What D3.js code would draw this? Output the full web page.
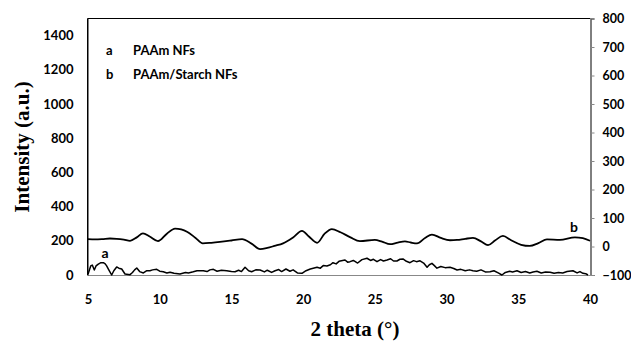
<!DOCTYPE html>
<html>
<head>
<meta charset="utf-8">
<script src="https://cdn.jsdelivr.net/npm/d3@7/dist/d3.min.js"></script>
<style>
  html, body { margin: 0; padding: 0; background: #fff; }
  svg { display: block; }
</style>
</head>
<body>
<svg id="chart" width="631" height="342"></svg>
<script>
// ---- Data ----
const xTicks = [5, 10, 15, 20, 25, 30, 35, 40];
const leftTicks = [0, 200, 400, 600, 800, 1000, 1200, 1400];
const rightTicks = [-100, 0, 100, 200, 300, 400, 500, 600, 700, 800];

// Curve a: PAAm NFs (left axis)
const thetaA = [5.0,5.19,5.30,5.44,5.56,5.72,5.9,6.07,6.2,6.30,6.45,6.65,6.8,7.0,7.15,7.35,7.58,7.93,8.1,8.25,8.40,8.6,8.86,9.1,9.32,9.5,9.79,10.0,10.25,10.5,10.72,11.0,11.41,11.8,12.0,12.34,12.6,13.04,13.3,13.5,13.74,14.0,14.3,14.67,15.0,15.25,15.5,15.7,15.95,16.2,16.41,16.7,17.0,17.3,17.5,17.8,18.04,18.3,18.5,18.8,19.08,19.3,19.6,19.92,20.2,20.5,20.97,21.2,21.4,21.66,21.9,22.08,22.3,22.5,22.92,23.1,23.27,23.5,23.8,24.1,24.45,24.7,24.9,25.15,25.4,25.6,25.85,26.1,26.3,26.54,26.75,26.96,27.2,27.45,27.7,27.9,28.15,28.4,28.64,28.8,28.98,29.15,29.33,29.6,29.9,30.24,30.5,30.73,31.0,31.3,31.6,31.84,32.1,32.4,32.7,33.03,33.3,33.6,33.86,34.1,34.4,34.6,34.91,35.2,35.5,35.8,36.03,36.3,36.6,36.9,37.22,37.5,37.8,38.1,38.4,38.81,39.1,39.3,39.51,39.7,39.86];
const valuesA = [5,53,58,29,53,64,72,72,65,53,30,0,25,47,40,35,6,2,15,30,41,20,12,25,25,30,33,22,19,12,16,10,6,15,12,19,25,25,20,30,33,22,28,25,20,19,28,20,45,25,19,30,29,18,28,15,25,32,20,35,22,30,12,10,25,35,45,40,55,53,60,72,65,80,88,75,78,85,70,90,98,85,92,78,90,82,88,95,82,82,92,94,80,72,84,78,83,70,45,60,68,55,40,50,43,45,38,29,33,25,30,25,22,30,18,19,25,12,0,15,22,18,25,15,20,12,18,22,12,18,16,10,15,12,20,25,12,20,10,8,0];

// Curve b: PAAm/Starch NFs (right axis)
const thetaB = [5.0,5.5,6.0,6.53,7.0,7.5,7.93,8.4,8.83,9.3,9.88,10.5,11.07,11.5,11.9,12.5,13.0,13.6,14.2,15.0,15.74,16.4,17.0,17.5,18.0,18.6,19.3,19.92,20.4,20.97,21.5,22.0,22.6,23.3,23.96,25.0,25.5,26.06,26.6,27.1,27.5,27.94,28.5,28.98,29.6,30.24,30.73,31.3,31.84,32.4,32.89,33.4,33.93,34.5,35.2,35.8,36.4,37.0,37.9,38.95,39.5,40.0];
const valuesB = [26,25,26,28,27,24,20,32,46,35,19,45,63,60,52,30,11,13,16,21,26,10,-9,-5,2,11,32,55,35,13,45,61,50,32,19,23,17,8,14,18,14,11,30,42,30,22,23,27,30,18,5,22,37,22,6,2,12,25,23,32,29,20];

const legendKeys = ["a", "b"];
const legendNames = ["PAAm NFs", "PAAm/Starch NFs"];

// ---- Layout ----
const svg = d3.select("#chart");
const L = 87.5, R = 590.5, T = 18.5, B = 275;

const x = d3.scaleLinear().domain([5, 40]).range([88, 590]);
const yL = d3.scaleLinear().domain([0, 1500]).range([B, T]);
const yR = d3.scaleLinear().domain([-100, 800]).range([B, T]);

const sans = "Lato, 'Open Sans', sans-serif";
const serif = "'Liberation Serif', 'Times New Roman', serif";
const fmt = d3.format("d");

// frame
svg.append("line").attr("x1", L).attr("x2", R).attr("y1", T).attr("y2", T).attr("stroke", "#000").attr("stroke-width", 1);
svg.append("line").attr("x1", L).attr("x2", L).attr("y1", T).attr("y2", B).attr("stroke", "#000").attr("stroke-width", 1);
svg.append("line").attr("x1", L).attr("x2", R).attr("y1", B + 0.5).attr("y2", B + 0.5).attr("stroke", "#888").attr("stroke-width", 1);

// left axis (labels only)
const gL = svg.append("g").attr("transform", `translate(${L},0)`)
  .call(d3.axisLeft(yL).tickValues(leftTicks).tickFormat(fmt).tickSize(0).tickPadding(14));
gL.select(".domain").attr("stroke", "#000");
gL.selectAll("text").attr("font-family", sans).attr("font-weight", "bold").attr("font-size", 13).attr("fill", "#000");

// right axis with outside ticks
const gR = svg.append("g").attr("transform", `translate(${R},0)`)
  .call(d3.axisRight(yR).tickValues(rightTicks).tickFormat(fmt).tickSize(4).tickPadding(8));
gR.select(".domain").attr("stroke", "#000");
gR.selectAll(".tick line").attr("stroke", "#888");
gR.selectAll("text").attr("font-family", sans).attr("font-weight", "bold").attr("font-size", 12.5).attr("fill", "#000");

// bottom axis labels
const gB = svg.append("g").attr("transform", `translate(0,${B})`)
  .call(d3.axisBottom(x).tickValues(xTicks).tickFormat(fmt).tickSize(0).tickPadding(20));
gB.select(".domain").remove();
gB.selectAll("text").attr("font-family", sans).attr("font-weight", "bold").attr("font-size", 13).attr("fill", "#000");

// curves
const dataA = thetaA.map((t, i) => [t, valuesA[i]]);
const dataB = thetaB.map((t, i) => [t, valuesB[i]]);

svg.append("path").datum(dataA)
  .attr("fill", "none").attr("stroke", "#000").attr("stroke-width", 1.5).attr("stroke-linejoin", "round")
  .attr("d", d3.line().x(d => x(d[0])).y(d => yL(d[1])));

svg.append("path").datum(dataB)
  .attr("fill", "none").attr("stroke", "#000").attr("stroke-width", 1.8)
  .attr("d", d3.line().curve(d3.curveMonotoneX).x(d => x(d[0])).y(d => yR(d[1])));

// curve labels
svg.append("text").attr("x", 105).attr("y", 258).attr("text-anchor", "middle")
  .attr("font-family", sans).attr("font-weight", "bold").attr("font-size", 14).text("a");
svg.append("text").attr("x", 574).attr("y", 232).attr("text-anchor", "middle")
  .attr("font-family", sans).attr("font-weight", "bold").attr("font-size", 14).text("b");

// legend
legendKeys.forEach((k, i) => {
  const yy = 55 + i * 24;
  svg.append("text").attr("x", 106).attr("y", yy)
    .attr("font-family", sans).attr("font-weight", "bold").attr("font-size", 13).text(k);
  svg.append("text").attr("x", 133).attr("y", yy)
    .attr("font-family", sans).attr("font-weight", "bold").attr("font-size", 13).text(legendNames[i]);
});

// axis titles
svg.append("text")
  .attr("transform", "translate(29,147) rotate(-90)")
  .attr("text-anchor", "middle")
  .attr("font-family", serif).attr("font-weight", "bold").attr("font-size", 21)
  .text("Intensity (a.u.)");

svg.append("text")
  .attr("x", 355).attr("y", 336).attr("text-anchor", "middle")
  .attr("font-family", serif).attr("font-weight", "bold").attr("font-size", 21)
  .text("2 theta (°)");
</script>
</body>
</html>
